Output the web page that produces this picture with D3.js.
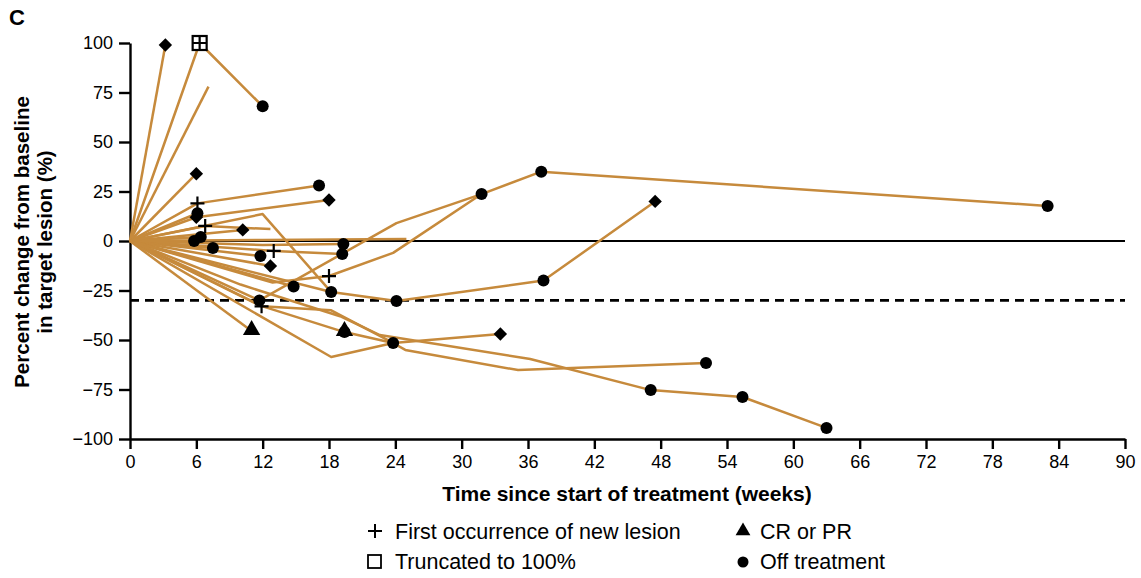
<!DOCTYPE html>
<html>
<head>
<meta charset="utf-8">
<script src="https://cdn.jsdelivr.net/npm/d3@7"></script>
<style>
  body { margin: 0; background: #fff; }
  text { font-family: "Liberation Sans", Arial, sans-serif; }
</style>
</head>
<body>
<div class="container"></div>
<script>
// each patient: weeks since start, percent change from baseline
const patientWeeks = [
  [0, 3.2],
  [0, 6.3, 12.0],
  [0, 7.1],
  [0, 6.0],
  [0, 6.1, 17.1],
  [0, 6.0, 18.0],
  [0, 6.1],
  [0, 6.8, 12.7],
  [0, 10.2],
  [0, 6.4],
  [0, 5.8],
  [0, 7.5],
  [0, 11.8],
  [0, 12.7],
  [0, 13, 19.2],
  [0, 12, 19.3],
  [0, 12, 25],
  [0, 12, 18.2, 24.1, 37.4, 47.5],
  [0, 18.2],
  [0, 11.7, 24.1, 31.8],
  [0, 12.9, 18, 23.8, 31.8, 37.2, 83],
  [0, 14.8],
  [0, 11.9, 18.2, 23.8, 24.9, 35.1, 52.1],
  [0, 11],
  [0, 12, 19.4, 23.8, 33.5],
  [0, 18.2, 23.8],
  [0, 10, 19, 22.6, 36.2, 47.1, 55.4, 63]
];
const patientPct = [
  [0, 99],
  [0, 100, 68],
  [0, 78],
  [0, 34],
  [0, 19, 28],
  [0, 12, 20.7],
  [0, 14],
  [0, 7.6, 6],
  [0, 5.6],
  [0, 2],
  [0, 0],
  [0, -3.5],
  [0, -7.6],
  [0, -12.6],
  [0, -5, -6.6],
  [0, -2, -1.5],
  [0, 0.5, 1],
  [0, 13.6, -25.8, -30.3, -20, 20],
  [0, -25.8],
  [0, -30, 9, 23.7],
  [0, -21, -17.7, -6, 23.7, 35, 17.7],
  [0, -23],
  [0, -33, -35, -51.5, -55, -65.2, -61.6],
  [0, -45.5],
  [0, -33, -46, -51.5, -47],
  [0, -58.6, -51.5],
  [0, -22, -38, -47.5, -59.6, -75.3, -78.8, -94.4]
];

// markers [weeks, pct]
const offTreatment = [[12.0, 68], [17.1, 28], [31.8, 23.7], [37.2, 35], [83, 17.7], [19.3, -1.5],
  [19.2, -6.6], [11.8, -7.6], [7.5, -3.5], [6.4, 2], [5.8, 0], [6.1, 14], [11.7, -30], [14.8, -23],
  [18.2, -25.8], [24.1, -30.3], [37.4, -20], [23.8, -51.5], [52.1, -61.6], [47.1, -75.3],
  [55.4, -78.8], [63, -94.4], [19.4, -46]];
const ongoing = [[3.2, 99], [6.0, 34], [18.0, 20.7], [47.5, 20], [10.2, 5.6], [12.7, -12.6],
  [33.5, -47], [6.0, 12]];
const newLesion = [[6.1, 19], [6.8, 7.6], [13, -5], [18, -17.7], [11.9, -33], [6.3, 100]];
const response = [[11, -45.5], [19.4, -46]];
const truncated = [[6.3, 100]];

const xTicks = d3.range(0, 91, 6);
const yTicks = [100, 75, 50, 25, 0, -25, -50, -75, -100];

const width = 1141, height = 578;
const lineColor = "#c68a3c";

const svg = d3.select(".container").append("svg")
  .attr("width", width).attr("height", height);

const x = d3.scaleLinear([0, 90], [130, 1125]);
const y = d3.scaleLinear([-100, 100], [439, 43]);

// reference lines
svg.append("line")
  .attr("x1", x(0)).attr("x2", x(90)).attr("y1", y(0)).attr("y2", y(0))
  .attr("stroke", "#000").attr("stroke-width", 2.2);
svg.append("line")
  .attr("x1", x(0)).attr("x2", x(90)).attr("y1", y(-30)).attr("y2", y(-30))
  .attr("stroke", "#000").attr("stroke-width", 2.6).attr("stroke-dasharray", "9,6");

// axes
const yAxis = d3.axisLeft(y).tickValues(yTicks).tickSize(11).tickSizeOuter(0)
  .tickFormat(d => d < 0 ? "\u2212" + Math.abs(d) : d);
const xAxis = d3.axisBottom(x).tickValues(xTicks).tickSize(10).tickSizeOuter(0);

const gy = svg.append("g").attr("transform", `translate(${x(0)},0)`).call(yAxis);
const gx = svg.append("g").attr("transform", `translate(0,${y(-100)})`).call(xAxis);
[gx, gy].forEach(g => {
  g.selectAll("path, line").attr("stroke", "#000").attr("stroke-width", 2.4);
  g.selectAll("text").attr("font-size", 18).attr("fill", "#000")
    .attr("font-family", "'Liberation Sans', Arial, sans-serif");
});
gy.selectAll("text").attr("x", -17);
gx.selectAll("text").attr("y", 16);

// patient lines
const line = d3.line().x(d => x(d[0])).y(d => y(d[1]));
svg.append("g").selectAll("path")
  .data(patientWeeks.map((w, i) => w.map((v, j) => [v, patientPct[i][j]])))
  .enter().append("path")
  .attr("d", line)
  .attr("fill", "none")
  .attr("stroke", lineColor)
  .attr("stroke-width", 2.5)
  .attr("stroke-linejoin", "round");

// markers
const marks = svg.append("g");
marks.selectAll(".sq").data(truncated).enter().append("rect")
  .attr("x", d => x(d[0]) - 7).attr("y", d => y(d[1]) - 7)
  .attr("width", 14).attr("height", 14)
  .attr("fill", "#fff").attr("stroke", "#000").attr("stroke-width", 2.2);

marks.selectAll(".dot").data(offTreatment).enter().append("circle")
  .attr("cx", d => x(d[0])).attr("cy", d => y(d[1])).attr("r", 6)
  .attr("fill", "#000");

marks.selectAll(".dia").data(ongoing).enter().append("path")
  .attr("d", d3.symbol(d3.symbolSquare, 90))
  .attr("transform", d => `translate(${x(d[0])},${y(d[1])}) rotate(45)`)
  .attr("fill", "#000");

marks.selectAll(".tri").data(response).enter().append("path")
  .attr("d", d3.symbol(d3.symbolTriangle, 130))
  .attr("transform", d => `translate(${x(d[0])},${y(d[1]) - 1})`)
  .attr("fill", "#000");

marks.selectAll(".plus").data(newLesion).enter().append("path")
  .attr("d", "M-7,0H7M0,-7V7")
  .attr("transform", d => `translate(${x(d[0])},${y(d[1])})`)
  .attr("stroke", "#000").attr("stroke-width", 2.2).attr("fill", "none");

// titles
svg.append("text").attr("x", 9).attr("y", 25)
  .attr("font-size", 22).attr("font-weight", "bold").text("C");

svg.append("text").attr("x", 627).attr("y", 501)
  .attr("text-anchor", "middle").attr("font-size", 21).attr("font-weight", "bold")
  .text("Time since start of treatment (weeks)");

const yt = svg.append("text").attr("transform", "translate(0,242) rotate(-90)")
  .attr("text-anchor", "middle").attr("font-size", 20.5).attr("font-weight", "bold");
yt.append("tspan").attr("x", 0).attr("y", 29).text("Percent change from baseline");
yt.append("tspan").attr("x", 0).attr("y", 52).text("in target lesion (%)");

// legend
const lg = svg.append("g").attr("font-size", 21.5);
lg.append("path").attr("d", "M-7,0H7M0,-7V7").attr("transform", "translate(375,531)")
  .attr("stroke", "#000").attr("stroke-width", 2);
lg.append("text").attr("x", 395).attr("y", 539).text("First occurrence of new lesion");
lg.append("rect").attr("x", 368).attr("y", 555).attr("width", 13).attr("height", 13)
  .attr("fill", "#fff").attr("stroke", "#000").attr("stroke-width", 1.8);
lg.append("text").attr("x", 395).attr("y", 569).text("Truncated to 100%");
lg.append("path").attr("d", d3.symbol(d3.symbolTriangle, 95)).attr("transform", "translate(743,531)");
lg.append("text").attr("x", 760).attr("y", 539).text("CR or PR");
lg.append("circle").attr("cx", 743).attr("cy", 562).attr("r", 5.5);
lg.append("text").attr("x", 760).attr("y", 569).text("Off treatment");
</script>
</body>
</html>
